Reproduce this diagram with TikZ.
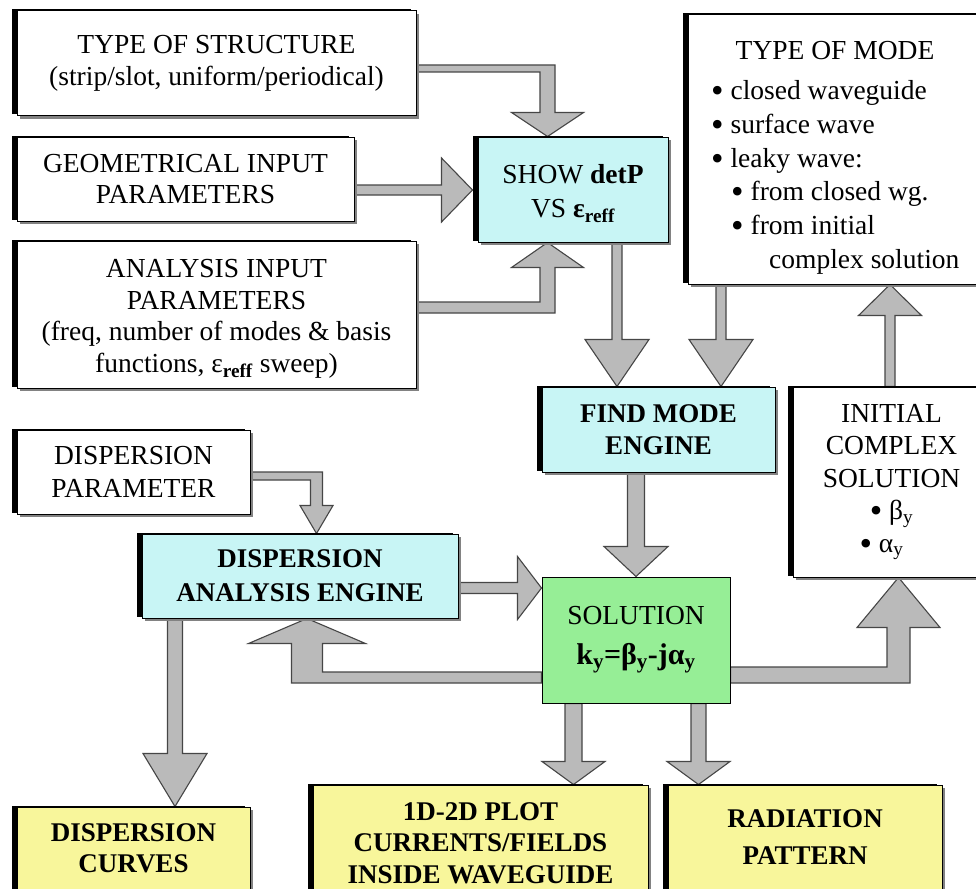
\documentclass[tikz,border=0pt]{standalone}
\usepackage{fontspec}
\setmainfont{Liberation Serif}
\usetikzlibrary{calc,shadows,backgrounds}

\definecolor{cyanbox}{RGB}{200,245,245}
\definecolor{greenbox}{RGB}{150,238,150}
\definecolor{yellowbox}{RGB}{248,246,155}
\definecolor{arrowfill}{RGB}{186,186,186}
\definecolor{arrowedge}{RGB}{70,70,70}
\definecolor{sidegray}{RGB}{130,130,130}

\newcommand\txtreg{\fontsize{27.5}{32}\selectfont}
% a slightly larger, lowered bullet
\newcommand\blt{\raisebox{-3pt}{\scalebox{1.3}{\textbullet}}}

% straight horizontal block arrow: start, tip, shaft half width, head length, head half width, direction (+1 right / -1 left)
\newcommand\hfat[6]{%
  \filldraw[fatarrow] let \p1=#1, \p2=#2 in
    (\x1,{\y2+#3}) -- ({\x2-(#6)*#4},{\y2+#3}) -- ({\x2-(#6)*#4},{\y2+#5}) -- (\p2)
    -- ({\x2-(#6)*#4},{\y2-#5}) -- ({\x2-(#6)*#4},{\y2-#3}) -- (\x1,{\y2-#3}) -- cycle;}
% straight vertical block arrow: start, tip, shaft half width, head length, head half width, direction (+1 up / -1 down)
\newcommand\vfat[6]{%
  \filldraw[fatarrow] let \p1=#1, \p2=#2 in
    ({\x2-#3},\y1) -- ({\x2-#3},{\y2-(#6)*#4}) -- ({\x2-#5},{\y2-(#6)*#4}) -- (\p2)
    -- ({\x2+#5},{\y2-(#6)*#4}) -- ({\x2+#3},{\y2-(#6)*#4}) -- ({\x2+#3},\y1) -- cycle;}
% bent block arrow, horizontal leg then vertical leg:
% start, tip, horizontal half width, vertical half width, head length, head half width, x direction, y direction
\newcommand\hvfat[8]{%
  \filldraw[fatarrow] let \p1=#1, \p2=#2 in
    (\x1,{\y1-(#8)*#3}) -- ({\x2+(#7)*#4},{\y1-(#8)*#3}) -- ({\x2+(#7)*#4},{\y2-(#8)*#5})
    -- ({\x2+(#7)*#6},{\y2-(#8)*#5}) -- (\p2) -- ({\x2-(#7)*#6},{\y2-(#8)*#5})
    -- ({\x2-(#7)*#4},{\y2-(#8)*#5}) -- ({\x2-(#7)*#4},{\y1+(#8)*#3}) -- (\x1,{\y1+(#8)*#3}) -- cycle;}

\tikzset{
  panel/.style={rectangle, draw=black, line width=1pt, inner sep=0pt, align=center,
    general shadow={fill=black, shadow xshift=-5pt, shadow yshift=1.5pt},
    general shadow={fill=sidegray, shadow xshift=3pt, shadow yshift=-3pt}},
  flatpanel/.style={rectangle, draw=black, line width=1pt, inner sep=0pt, align=center},
  fatarrow/.style={fill=arrowfill, draw=arrowedge, line width=1.1pt, line join=miter},
}

\begin{document}
\begin{tikzpicture}[x=1pt,y=-1pt]
\useasboundingbox (0,0) rectangle (976,888);
\clip (0,0) rectangle (976,888);

% input boxes
\node[panel, fill=white, minimum width=399pt, minimum height=105pt, font=\txtreg]
  (struct) at (216.5,63.5) {TYPE OF STRUCTURE\\(strip/slot, uniform/periodical)};
\node[panel, fill=white, minimum width=337pt, minimum height=84pt, font=\fontsize{27.5}{31}\selectfont]
  (geom) at (185.5,179) {GEOMETRICAL INPUT\\PARAMETERS};
\node[panel, fill=white, minimum width=399pt, minimum height=147pt, font=\fontsize{27.5}{31.5}\selectfont]
  (anal) at (216.5,314.5) {\rule{0pt}{27pt}ANALYSIS INPUT\\PARAMETERS\\(freq, number of modes \& basis\\functions, ε\textsubscript{\textbf{reff}} sweep)};

% engines
\node[panel, fill=cyanbox, minimum width=190pt, minimum height=105pt, font=\fontsize{27.5}{34}\selectfont]
  (show) at (573,189.5) {\rule{0pt}{28pt}SHOW \textbf{detP}\\VS \textbf{ε\textsubscript{reff}}};
\node[panel, fill=cyanbox, minimum width=233pt, minimum height=85pt, font=\fontsize{27}{32}\selectfont\bfseries]
  (find) at (658.5,429.5) {FIND MODE\\ENGINE};

% mode types
\node[panel, fill=white, minimum width=302pt, minimum height=269pt] (mode) at (839,149.5) {};
\node[anchor=base, inner sep=0pt, font=\txtreg] (modetitle) at (835,60) {TYPE OF MODE};
\node[anchor=base west, inner sep=0pt, font=\fontsize{27.5}{33.6}\selectfont]
  (modelist) at (711,100) {\begin{tabular}[t]{@{}l@{}}
  \blt\ closed waveguide\\
  \blt\ surface wave\\
  \blt\ leaky wave:\\
  \hspace*{20pt}\blt\ from closed wg.\\
  \hspace*{20pt}\blt\ from initial\\
  \hspace*{58pt}complex solution
  \end{tabular}};

\node[panel, fill=white, minimum width=197pt, minimum height=190pt, font=\fontsize{27.5}{32.5}\selectfont]
  (init) at (891.5,482) {INITIAL\\COMPLEX\\SOLUTION\\\blt\ β\textsubscript{y}\hspace*{20pt}\\\blt\ α\textsubscript{y}\hspace*{20pt}};

% dispersion branch
\node[panel, fill=white, minimum width=233pt, minimum height=84pt, font=\fontsize{27.5}{33}\selectfont]
  (disppar) at (133.5,472) {DISPERSION\\PARAMETER};
\node[panel, fill=cyanbox, minimum width=316pt, minimum height=84pt, font=\fontsize{27}{34}\selectfont\bfseries]
  (dispeng) at (300,576) {DISPERSION\\ANALYSIS ENGINE};

% solution
\node[flatpanel, fill=greenbox, minimum width=188pt, minimum height=126pt, font=\fontsize{27.5}{40}\selectfont]
  (sol) at (636,640) {SOLUTION\\{\fontsize{30}{40}\selectfont\bfseries k\textsubscript{y}=β\textsubscript{y}-jα\textsubscript{y}}};

% outputs
\node[panel, fill=yellowbox, minimum width=233pt, minimum height=83pt, font=\fontsize{27}{31}\selectfont\bfseries]
  (curves) at (133.5,848.5) {DISPERSION\\CURVES};
\node[panel, fill=yellowbox, minimum width=335pt, minimum height=116pt, font=\fontsize{27}{31.5}\selectfont\bfseries]
  (plot) at (480.5,843) {1D-2D PLOT\\CURRENTS/FIELDS\\INSIDE WAVEGUIDE};
\node[panel, fill=yellowbox, minimum width=274pt, minimum height=105pt, font=\fontsize{27}{37}\selectfont\bfseries]
  (rad) at (805,837.5) {RADIATION\\PATTERN};

\begin{pgfonlayer}{background}
  \fill[white] (0,0) rectangle (976,888);
  % inputs into the determinant plot
  \hvfat{([yshift=-5pt]struct.east)}{([xshift=-25.5pt]show.north)}{3.5pt}{7.5pt}{24pt}{36pt}{1}{-1}
  \hfat{(geom.east)}{([shift={(-5pt,-0.5pt)}]show.west)}{5pt}{31pt}{32pt}{1}
  \hvfat{([yshift=7pt]anal.east)}{([xshift=-25.5pt]show.south)}{5.5pt}{7.5pt}{25pt}{36pt}{1}{1}
  % into the mode finder
  \vfat{(show.south)}{([xshift=-41.5pt]find.north)}{5pt}{47pt}{32pt}{-1}
  \vfat{(mode.south)}{([xshift=62.5pt]find.north)}{5pt}{47pt}{32pt}{-1}
  \vfat{(init.north)}{([xshift=51pt]mode.south)}{5pt}{31pt}{31.5pt}{1}
  \vfat{(find.south)}{(sol.north)}{8.5pt}{30pt}{32pt}{-1}
  % dispersion loop
  \hfat{(dispeng.east)}{([yshift=52pt]sol.west)}{5.5pt}{24pt}{31.5pt}{1}
  \hvfat{([yshift=-37.5pt]sol.west)}{([xshift=7pt]dispeng.south)}{5.5pt}{15.5pt}{25pt}{58.5pt}{-1}{1}
  \hvfat{([yshift=-35pt]sol.east)}{([xshift=7pt]init.south)}{8pt}{11.5pt}{50pt}{41.5pt}{1}{1}
  \hvfat{([yshift=-4pt]disppar.east)}{([xshift=16.5pt]dispeng.north)}{4pt}{6pt}{28pt}{16.5pt}{1}{-1}
  % outputs
  \vfat{(dispeng.south)}{([xshift=41.5pt]curves.north)}{7.5pt}{53pt}{32pt}{-1}
  \vfat{(sol.south)}{([xshift=93pt]plot.north)}{8.5pt}{23pt}{31.5pt}{-1}
  \vfat{(sol.south)}{([xshift=-106.5pt]rad.north)}{7.5pt}{23pt}{31.5pt}{-1}
\end{pgfonlayer}
\end{tikzpicture}
\end{document}
